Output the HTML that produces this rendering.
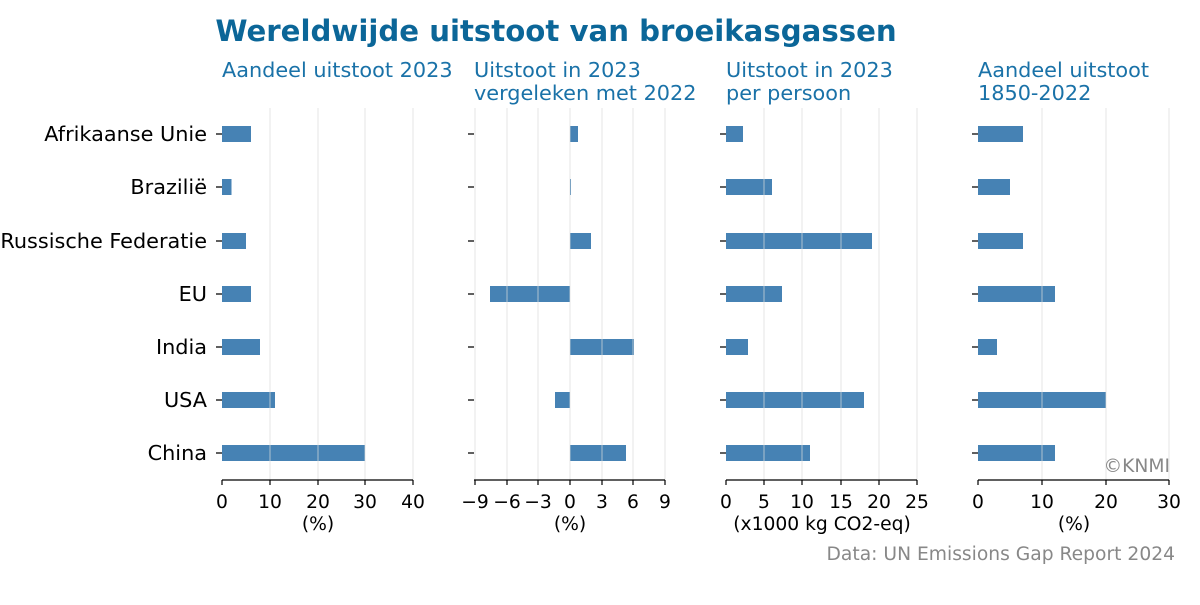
<!DOCTYPE html>
<html><head><meta charset="utf-8"><style>
body{margin:0;background:#fff;}
svg text{font-family:"DejaVu Sans","Liberation Sans",sans-serif;}
</style></head><body>
<svg width="1200" height="600" viewBox="0 0 1200 600" xmlns="http://www.w3.org/2000/svg">
<rect width="1200" height="600" fill="#fff"/>
<text x="556" y="41" text-anchor="middle" font-size="29.2" font-weight="bold" fill="#0b6698">Wereldwijde uitstoot van broeikasgassen</text>
<g font-size="20.8" fill="#1a72a8">
<text x="222" y="77">Aandeel uitstoot 2023</text>
<text x="474" y="77">Uitstoot in 2023</text><text x="474" y="100">vergeleken met 2022</text>
<text x="726" y="77">Uitstoot in 2023</text><text x="726" y="100">per persoon</text>
<text x="978" y="77">Aandeel uitstoot</text><text x="978" y="100">1850-2022</text>
</g>
<g font-size="20.8" fill="#000" text-anchor="end">
<text x="207" y="141">Afrikaanse Unie</text>
<text x="207" y="194">Brazilië</text>
<text x="207" y="248">Russische Federatie</text>
<text x="207" y="301">EU</text>
<text x="207" y="354">India</text>
<text x="207" y="407">USA</text>
<text x="207" y="460">China</text>
</g>
<g fill="#4682b4">
<rect x="222" y="126" width="29" height="16"/><rect x="222" y="179" width="9.5" height="16"/><rect x="222" y="233" width="24" height="16"/><rect x="222" y="286" width="29" height="16"/><rect x="222" y="339" width="38" height="16"/><rect x="222" y="392" width="53" height="16"/><rect x="222" y="445" width="143" height="16"/>
<rect x="570" y="126" width="8" height="16"/><rect x="570" y="179" width="1" height="16"/><rect x="570" y="233" width="21" height="16"/><rect x="490" y="286" width="80" height="16"/><rect x="570" y="339" width="64" height="16"/><rect x="555" y="392" width="15" height="16"/><rect x="570" y="445" width="56" height="16"/>
<rect x="726" y="126" width="17" height="16"/><rect x="726" y="179" width="46" height="16"/><rect x="726" y="233" width="146" height="16"/><rect x="726" y="286" width="56" height="16"/><rect x="726" y="339" width="22" height="16"/><rect x="726" y="392" width="138" height="16"/><rect x="726" y="445" width="84" height="16"/>
<rect x="978" y="126" width="45" height="16"/><rect x="978" y="179" width="32" height="16"/><rect x="978" y="233" width="45" height="16"/><rect x="978" y="286" width="77" height="16"/><rect x="978" y="339" width="19" height="16"/><rect x="978" y="392" width="128" height="16"/><rect x="978" y="445" width="77" height="16"/>
</g>
<g stroke="#dcdcdc" stroke-width="1" opacity="0.7">
<path d="M270 108V480M318 108V480M365 108V480M413 108V480"/>
<path d="M475 108V480M507 108V480M538 108V480M570 108V480M602 108V480M633 108V480M665 108V480"/>
<path d="M764 108V480M802 108V480M841 108V480M879 108V480M917 108V480"/>
<path d="M1042 108V480M1106 108V480M1169 108V480"/>
</g>
<g stroke="#000" stroke-width="1.2">
<path d="M222 480H413M474 480H665M726 480H917M978 480H1169"/>
<path d="M222 480v5M270 480v5M318 480v5M365 480v5M413 480v5"/>
<path d="M475 480v5M507 480v5M538 480v5M570 480v5M602 480v5M633 480v5M665 480v5"/>
<path d="M726 480v5M764 480v5M802 480v5M841 480v5M879 480v5M917 480v5"/>
<path d="M978 480v5M1042 480v5M1106 480v5M1169 480v5"/>
<path d="M216 134h6M216 187h6M216 241h6M216 294h6M216 347h6M216 400h6M216 453h6"/>
<path d="M468 134h6M468 187h6M468 241h6M468 294h6M468 347h6M468 400h6M468 453h6"/>
<path d="M720 134h6M720 187h6M720 241h6M720 294h6M720 347h6M720 400h6M720 453h6"/>
<path d="M972 134h6M972 187h6M972 241h6M972 294h6M972 347h6M972 400h6M972 453h6"/>
</g>
<g font-size="18.7" fill="#000" text-anchor="middle">
<text x="222" y="508">0</text><text x="270" y="508">10</text><text x="318" y="508">20</text><text x="365" y="508">30</text><text x="413" y="508">40</text>
<text x="475" y="508">−9</text><text x="507" y="508">−6</text><text x="538" y="508">−3</text><text x="570" y="508">0</text><text x="602" y="508">3</text><text x="633" y="508">6</text><text x="665" y="508">9</text>
<text x="726" y="508">0</text><text x="764" y="508">5</text><text x="802" y="508">10</text><text x="841" y="508">15</text><text x="879" y="508">20</text><text x="917" y="508">25</text>
<text x="978" y="508">0</text><text x="1042" y="508">10</text><text x="1106" y="508">20</text><text x="1169" y="508">30</text>
<text x="318" y="530">(%)</text><text x="570" y="530">(%)</text><text x="822" y="530">(x1000 kg CO2-eq)</text><text x="1074" y="530">(%)</text>
</g>
<text x="1170" y="472" font-size="18.7" fill="#888" text-anchor="end">©KNMI</text>
<text x="1175" y="560" font-size="18.7" fill="#888" text-anchor="end">Data: UN Emissions Gap Report 2024</text>
</svg>
</body></html>
